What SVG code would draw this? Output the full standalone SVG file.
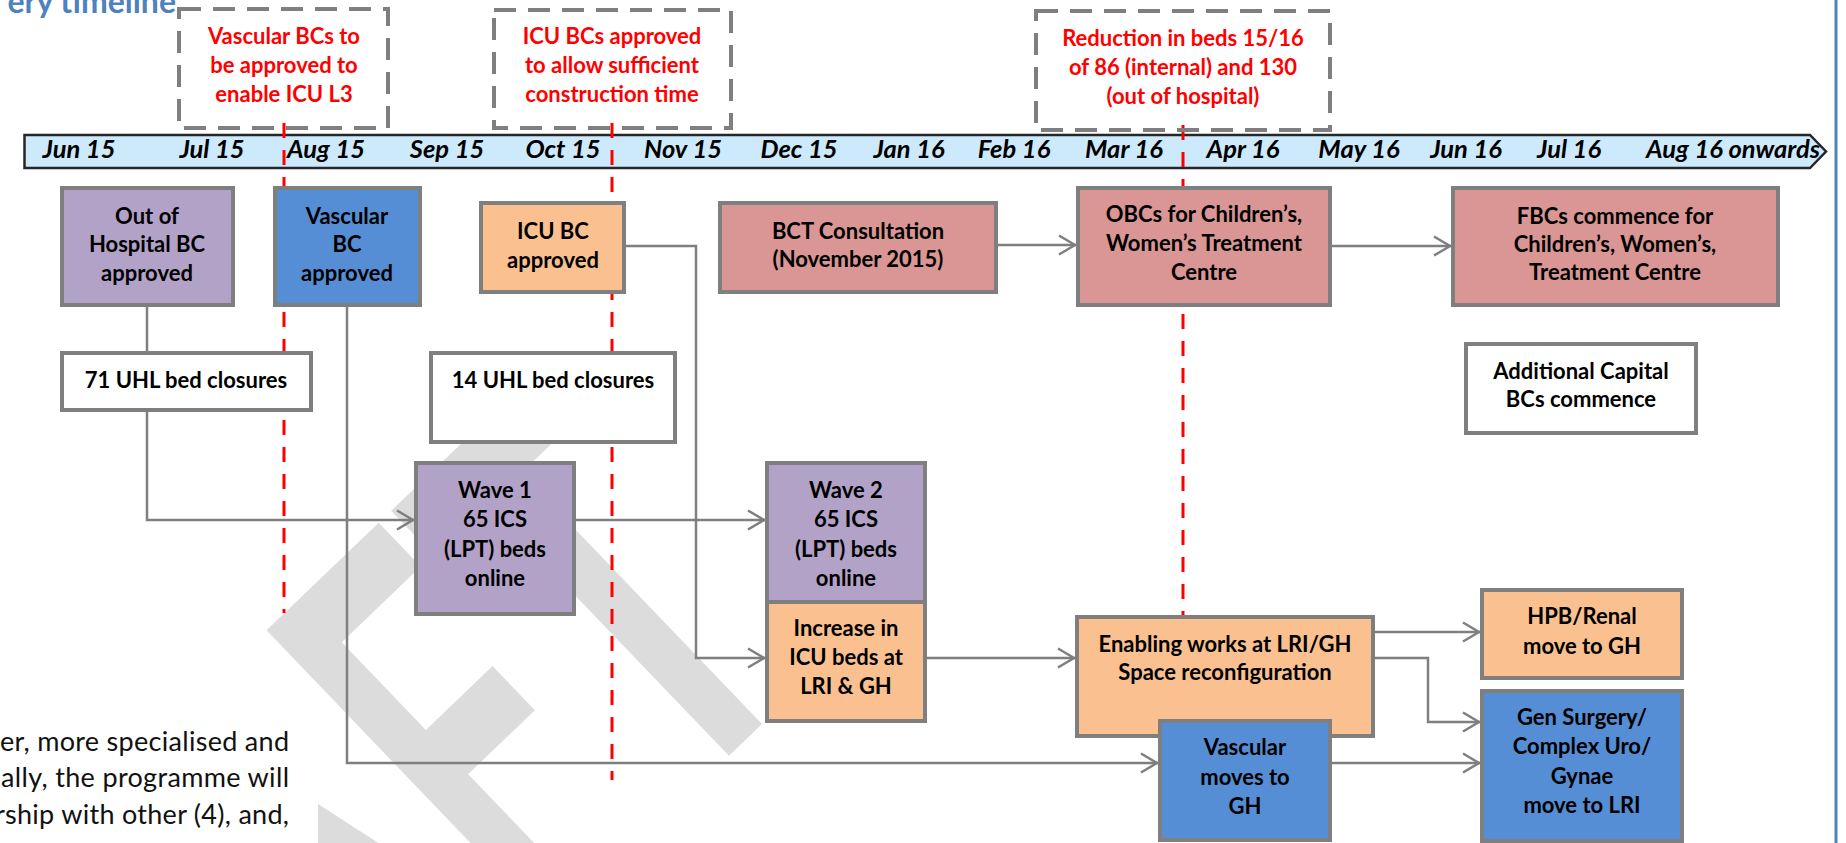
<svg xmlns="http://www.w3.org/2000/svg" width="1846" height="843" viewBox="0 0 1846 843">
<style>
.nd{stroke:#7f7f7f;stroke-width:4}
.pu{fill:#b3a2c7}.bl{fill:#558ed5}.or{fill:#fac090}.pk{fill:#d99694}.wh{fill:#ffffff}
.t{font-family:Lato,"Liberation Sans",sans-serif;font-weight:700;font-size:22px;text-anchor:middle;fill:#000}
.r{font-family:Lato,"Liberation Sans",sans-serif;font-weight:700;font-size:22px;text-anchor:middle;fill:#ff0000}
.m{font-family:Lato,"Liberation Sans",sans-serif;font-weight:700;font-style:italic;font-size:25.5px;text-anchor:middle;fill:#000}
.cn{fill:none;stroke:#7f7f7f;stroke-width:2.5}
.dbox{fill:none;stroke:#7f7f7f;stroke-width:4;stroke-dasharray:22 12}
.red{stroke:#ff0000;stroke-width:3;stroke-dasharray:15 12}
.body{font-family:Lato,"Liberation Sans",sans-serif;font-size:27px;fill:#111111}
</style>
<defs>
<marker id="ah" viewBox="0 0 20 22" refX="19" refY="11" markerWidth="20" markerHeight="22" markerUnits="userSpaceOnUse" orient="auto">
<path d="M2,1.5 L18,11 L2,20.5" fill="none" stroke="#7f7f7f" stroke-width="2.5"/>
</marker>
</defs>
<rect width="1846" height="843" fill="#ffffff"/>
<g id="watermark" transform="translate(270,632) rotate(-43.8) scale(0.6,1)">
<text x="-1212 -792 -440 -48 277" y="407" font-family="Lato,'Liberation Sans',sans-serif" font-weight="700" font-size="568" fill="#dcdcdc">DRAFT</text>
</g>
<g id="bodytext">
<rect x="0" y="700" width="318" height="143" fill="#ffffff"/>
<text class="body" x="0" y="751" textLength="289" lengthAdjust="spacing">er, more specialised and</text>
<text class="body" x="1" y="787" textLength="288" lengthAdjust="spacing">ally, the programme will</text>
<text class="body" x="-5" y="824" textLength="294" lengthAdjust="spacing">rship with other (4), and,</text>
</g>
<text id="title" x="176" y="13" font-family="Lato,'Liberation Sans',sans-serif" font-weight="700" font-size="32" fill="#4f81bd" text-anchor="end">ery timeline</text>
<line id="pageline" x1="1836" y1="0" x2="1836" y2="843" stroke="#4f81bd" stroke-width="3"/>
<g id="timeline">
<path d="M24.5,135 H1810 L1826,151.5 L1810,168 H24.5 Z" fill="#cdeafc" stroke="#262626" stroke-width="2.5"/>
<text class="m" x="79" y="158">Jun 15</text>
<text class="m" x="212" y="158">Jul 15</text>
<text class="m" x="326" y="158">Aug 15</text>
<text class="m" x="447" y="158">Sep 15</text>
<text class="m" x="563" y="158">Oct 15</text>
<text class="m" x="683" y="158">Nov 15</text>
<text class="m" x="799" y="158">Dec 15</text>
<text class="m" x="909" y="158">Jan 16</text>
<text class="m" x="1014" y="158">Feb 16</text>
<text class="m" x="1124" y="158">Mar 16</text>
<text class="m" x="1243" y="158">Apr 16</text>
<text class="m" x="1359" y="158">May 16</text>
<text class="m" x="1466" y="158">Jun 16</text>
<text class="m" x="1569" y="158">Jul 16</text>
<text class="m" x="1733" y="158">Aug 16 onwards</text>
</g>
<g id="milestones">
<line class="red" x1="284" y1="123" x2="284" y2="613"/>
<line class="red" x1="612" y1="123" x2="612" y2="780"/>
<line class="red" x1="1183" y1="125" x2="1183" y2="617"/>
</g>
<g id="note1">
<rect class="dbox" x="179" y="9" width="209" height="119"/>
<text class="r" x="284" y="44">Vascular BCs to</text>
<text class="r" x="284" y="73">be approved to</text>
<text class="r" x="284" y="102">enable ICU L3</text>
</g>
<g id="note2">
<rect class="dbox" x="494" y="10" width="237" height="118"/>
<text class="r" x="612" y="44">ICU BCs approved</text>
<text class="r" x="612" y="73">to allow sufficient</text>
<text class="r" x="612" y="102">construction time</text>
</g>
<g id="note3">
<rect class="dbox" x="1036" y="11" width="294" height="119"/>
<text class="r" x="1183" y="46">Reduction in beds 15/16</text>
<text class="r" x="1183" y="75">of 86 (internal) and 130</text>
<text class="r" x="1183" y="104">(out of hospital)</text>
</g>
<g id="connectors">
<path class="cn" d="M147,305 V353"/>
<path class="cn" d="M147,410 V520 H414" marker-end="url(#ah)"/>
<path class="cn" d="M347,305 V763 H1158" marker-end="url(#ah)"/>
<path class="cn" d="M624,246 H696 V658 H765" marker-end="url(#ah)"/>
<path class="cn" d="M574,520 H765" marker-end="url(#ah)"/>
<path class="cn" d="M996,245 H1076" marker-end="url(#ah)"/>
<path class="cn" d="M1330,246 H1451" marker-end="url(#ah)"/>
<path class="cn" d="M925,658 H1075" marker-end="url(#ah)"/>
<path class="cn" d="M1373,632 H1480" marker-end="url(#ah)"/>
<path class="cn" d="M1373,658 H1428 V722 H1480" marker-end="url(#ah)"/>
<path class="cn" d="M1330,763 H1480" marker-end="url(#ah)"/>
</g>
<g id="ooh"><rect class="nd pu" x="62" y="188" width="171" height="117"/>
<text class="t" x="147" y="224">Out of</text><text class="t" x="147" y="252">Hospital BC</text><text class="t" x="147" y="281">approved</text></g>
<g id="vasc"><rect class="nd bl" x="275" y="188" width="145" height="117"/>
<text class="t" x="347" y="224">Vascular</text><text class="t" x="347" y="252">BC</text><text class="t" x="347" y="281">approved</text></g>
<g id="icu"><rect class="nd or" x="481" y="203" width="143" height="89"/>
<text class="t" x="553" y="239">ICU BC</text><text class="t" x="553" y="268">approved</text></g>
<g id="bct"><rect class="nd pk" x="720" y="203" width="276" height="89"/>
<text class="t" x="858" y="239">BCT Consultation</text><text class="t" x="858" y="267">(November 2015)</text></g>
<g id="obc"><rect class="nd pk" x="1078" y="188" width="252" height="117"/>
<text class="t" x="1204" y="222">OBCs for Children’s,</text><text class="t" x="1204" y="251">Women’s Treatment</text><text class="t" x="1204" y="280">Centre</text></g>
<g id="fbc"><rect class="nd pk" x="1453" y="188" width="325" height="117"/>
<text class="t" x="1615" y="224">FBCs commence for</text><text class="t" x="1615" y="252">Children’s, Women’s,</text><text class="t" x="1615" y="280">Treatment Centre</text></g>
<g id="n71"><rect class="nd wh" x="62" y="353" width="249" height="57"/>
<text class="t" x="186" y="388">71 UHL bed closures</text></g>
<g id="n14"><rect class="nd wh" x="431" y="353" width="244" height="89"/>
<text class="t" x="553" y="388">14 UHL bed closures</text></g>
<g id="addcap"><rect class="nd wh" x="1466" y="344" width="230" height="89"/>
<text class="t" x="1581" y="379">Additional Capital</text><text class="t" x="1581" y="407">BCs commence</text></g>
<g id="wave1"><rect class="nd pu" x="416" y="463" width="158" height="151"/>
<text class="t" x="495" y="498">Wave 1</text><text class="t" x="495" y="527">65 ICS</text><text class="t" x="495" y="557">(LPT) beds</text><text class="t" x="495" y="586">online</text></g>
<g id="wave2"><rect class="nd pu" x="767" y="463" width="158" height="139"/>
<text class="t" x="846" y="498">Wave 2</text><text class="t" x="846" y="527">65 ICS</text><text class="t" x="846" y="557">(LPT) beds</text><text class="t" x="846" y="586">online</text></g>
<g id="incicu"><rect class="nd or" x="767" y="602" width="158" height="119"/>
<text class="t" x="846" y="636">Increase in</text><text class="t" x="846" y="665">ICU beds at</text><text class="t" x="846" y="694">LRI &amp; GH</text></g>
<g id="enabling"><rect class="nd or" x="1077" y="617" width="296" height="119"/>
<text class="t" x="1225" y="652">Enabling works at LRI/GH</text><text class="t" x="1225" y="680">Space reconfiguration</text></g>
<g id="vascmove"><rect class="nd bl" x="1160" y="721" width="170" height="119"/>
<text class="t" x="1245" y="755">Vascular</text><text class="t" x="1245" y="785">moves to</text><text class="t" x="1245" y="814">GH</text></g>
<g id="hpb"><rect class="nd or" x="1482" y="590" width="200" height="88"/>
<text class="t" x="1582" y="624">HPB/Renal</text><text class="t" x="1582" y="654">move to GH</text></g>
<g id="gensurg"><rect class="nd bl" x="1482" y="691" width="200" height="150"/>
<text class="t" x="1582" y="725">Gen Surgery/</text><text class="t" x="1582" y="754">Complex Uro/</text><text class="t" x="1582" y="784">Gynae</text><text class="t" x="1582" y="813">move to LRI</text></g>
</svg>
